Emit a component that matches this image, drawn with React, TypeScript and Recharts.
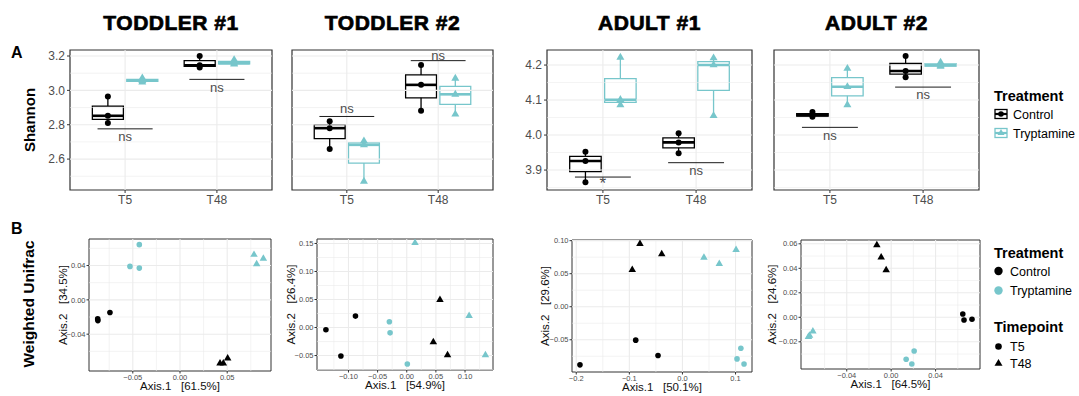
import React from 'react';
import { ScatterChart, Scatter, XAxis, YAxis, ReferenceLine, ReferenceArea, ReferenceDot } from 'recharts';

const FONT = '"Liberation Sans", Arial, sans-serif';
const CONTROL_COLOR = '#000000';
const TRYP_COLOR = '#77C6CB';
const GRID = '#EBEBEB';
const BORDER = '#333333';
const TICK_TEXT = '#4D4D4D';

const TIMEPOINTS = ['T5', 'T48'];
const SUBJECTS = ['TODDLER #1', 'TODDLER #2', 'ADULT #1', 'ADULT #2'];

// Shannon index replicates, [T5, T48]
const TODDLER1_CONTROL = [[2.965, 2.852, 2.81], [3.2, 3.146, 3.133]];
const TODDLER1_TRYP = [[3.072, 3.057, 3.048], [3.178, 3.158, 3.152]];
const TODDLER2_CONTROL = [[2.82, 2.78, 2.658], [3.148, 3.032, 2.881]];
const TODDLER2_TRYP = [[2.705, 2.683, 2.47], [3.07, 2.977, 2.861]];
const ADULT1_CONTROL = [[3.952, 3.926, 3.865], [4.005, 3.979, 3.948]];
const ADULT1_TRYP = [[4.222, 4.101, 4.086], [4.22, 4.2, 4.055]];
const ADULT2_CONTROL = [[4.066, 4.057, 4.052], [4.226, 4.183, 4.165]];
const ADULT2_TRYP = [[4.19, 4.138, 4.086], [4.208, 4.199, 4.196]];

// significance: [label, bar height, label height] per timepoint
const TODDLER1_SIG = [['ns', 2.776, 2.731], ['ns', 3.064, 3.018]];
const TODDLER2_SIG = [['ns', 2.848, 2.896], ['ns', 3.173, 3.206]];
const ADULT1_SIG = [['*', 3.88, 3.862], ['ns', 3.921, 3.9]];
const ADULT2_SIG = [['ns', 4.022, 4.0], ['ns', 4.137, 4.116]];

// PCoA (weighted UniFrac): [treatment, timepoint, axis1, axis2]
const TODDLER1_PCOA = [
  ['Control', 'T5', -0.0872, -0.0222], ['Control', 'T5', -0.087, -0.0242], ['Control', 'T5', -0.0742, -0.0148],
  ['Control', 'T48', 0.0424, -0.074], ['Control', 'T48', 0.0459, -0.074], ['Control', 'T48', 0.0505, -0.0682],
  ['Tryptamine', 'T5', -0.0431, 0.0643], ['Tryptamine', 'T5', -0.053, 0.039], ['Tryptamine', 'T5', -0.0431, 0.037],
  ['Tryptamine', 'T48', 0.0784, 0.0526], ['Tryptamine', 'T48', 0.0883, 0.048], ['Tryptamine', 'T48', 0.0812, 0.0417],
];
const TODDLER2_PCOA = [
  ['Control', 'T5', -0.1387, -0.004], ['Control', 'T5', -0.113, -0.0507], ['Control', 'T5', -0.088, 0.0204],
  ['Control', 'T48', 0.057, 0.0496], ['Control', 'T48', 0.0456, -0.026], ['Control', 'T48', 0.07, -0.049],
  ['Tryptamine', 'T5', -0.0298, 0.0102], ['Tryptamine', 'T5', -0.0286, -0.0095], ['Tryptamine', 'T5', 0.001, -0.065],
  ['Tryptamine', 'T48', 0.0142, 0.151], ['Tryptamine', 'T48', 0.107, 0.021], ['Tryptamine', 'T48', 0.135, -0.049],
];
const ADULT1_PCOA = [
  ['Control', 'T5', -0.193, -0.088], ['Control', 'T5', -0.088, -0.0506], ['Control', 'T5', -0.046, -0.0739],
  ['Control', 'T48', -0.08, 0.0953], ['Control', 'T48', -0.039, 0.0796], ['Control', 'T48', -0.0945, 0.0558],
  ['Tryptamine', 'T5', 0.11, -0.0628], ['Tryptamine', 'T5', 0.1028, -0.079], ['Tryptamine', 'T5', 0.116, -0.0866],
  ['Tryptamine', 'T48', 0.0405, 0.0745], ['Tryptamine', 'T48', 0.0694, 0.0649], ['Tryptamine', 'T48', 0.101, 0.0862],
];
const ADULT2_PCOA = [
  ['Control', 'T5', 0.0645, 0.0027], ['Control', 'T5', 0.0656, -0.0022], ['Control', 'T5', 0.0728, -0.0016],
  ['Control', 'T48', -0.0129, 0.059], ['Control', 'T48', -0.009, 0.049], ['Control', 'T48', -0.0045, 0.0386],
  ['Tryptamine', 'T5', 0.0207, -0.0275], ['Tryptamine', 'T5', 0.0135, -0.0343], ['Tryptamine', 'T5', 0.0186, -0.0381],
  ['Tryptamine', 'T48', -0.0705, -0.0115], ['Tryptamine', 'T48', -0.0735, -0.015], ['Tryptamine', 'T48', -0.0745, -0.016],
];

const AXIS1_PCT = ['61.5%', '54.9%', '50.1%', '64.5%'];
const AXIS2_PCT = ['34.5%', '26.4%', '29.6%', '24.6%'];

const SHANNON_CONTROL = [TODDLER1_CONTROL, TODDLER2_CONTROL, ADULT1_CONTROL, ADULT2_CONTROL];
const SHANNON_TRYP = [TODDLER1_TRYP, TODDLER2_TRYP, ADULT1_TRYP, ADULT2_TRYP];
const SHANNON_SIG = [TODDLER1_SIG, TODDLER2_SIG, ADULT1_SIG, ADULT2_SIG];
const PCOA = [TODDLER1_PCOA, TODDLER2_PCOA, ADULT1_PCOA, ADULT2_PCOA];

// axis setup
const A_YDOMAIN = [[2.42, 3.235], [2.42, 3.235], [3.843, 4.243], [3.843, 4.243]];
const A_YTICKS = [[2.6, 2.8, 3.0, 3.2], [2.6, 2.8, 3.0, 3.2], [3.9, 4.0, 4.1, 4.2], [3.9, 4.0, 4.1, 4.2]];
const B_XDOMAIN = [[-0.0964, 0.0964], [-0.154, 0.148], [-0.208, 0.131], [-0.0812, 0.08]];
const B_YDOMAIN = [[-0.0829, 0.0709], [-0.0758, 0.158], [-0.0988, 0.101], [-0.0422, 0.0631]];
const B_XTICKS = [[-0.05, 0, 0.05], [-0.1, -0.05, 0, 0.05, 0.1], [-0.2, -0.1, 0, 0.1], [-0.04, 0, 0.04]];
const B_YTICKS = [[-0.04, 0, 0.04], [-0.05, 0, 0.05, 0.1, 0.15], [-0.05, 0, 0.05, 0.1], [-0.02, 0, 0.02, 0.04, 0.06]];
const B_XDEC = [2, 2, 1, 2];

// layout (pixels)
const A_RECTS = [
  { x: 70, y: 50, w: 202, h: 140 },
  { x: 292, y: 50, w: 201, h: 140 },
  { x: 547, y: 50, w: 205, h: 140 },
  { x: 774, y: 50, w: 205, h: 140 },
];
const B_RECTS = [
  { x: 89, y: 239, w: 182, h: 132 },
  { x: 317, y: 239, w: 176, h: 131 },
  { x: 572, y: 240, w: 180, h: 132 },
  { x: 801, y: 240, w: 179, h: 129 },
];
const B_YAXIS_W = [52, 53, 54, 58];
const DODGE = 0.1875;
const HALF_BOX = 0.169;

const fmtTick = (dec: number) => (v: number) => {
  const s = Math.abs(v) < 1e-9 ? (0).toFixed(dec) : v.toFixed(dec);
  return s.replace('-', '\u2212');
};

const minorsOf = (ticks: number[]) => {
  const step = ticks[1] - ticks[0];
  const out: number[] = [];
  out.push(ticks[0] - step / 2);
  ticks.forEach((t) => out.push(t + step / 2));
  return out;
};

const quantile = (s: number[], p: number) => {
  const h = (s.length - 1) * p;
  const lo = Math.floor(h);
  const hi = Math.min(lo + 1, s.length - 1);
  return s[lo] + (h - lo) * (s[hi] - s[lo]);
};

const triangle = (cx: number, cy: number, s: number, fill: string) => (
  <polygon
    points={`${cx},${cy - s * 0.577} ${cx - s / 2},${cy + s * 0.289} ${cx + s / 2},${cy + s * 0.289}`}
    fill={fill}
  />
);

function boxElements(values: number[], center: number, color: string, key: string) {
  const s = [...values].sort((a, b) => a - b);
  const q1 = quantile(s, 0.25);
  const med = quantile(s, 0.5);
  const q3 = quantile(s, 0.75);
  const lo = s[0];
  const hi = s[s.length - 1];
  return [
    <ReferenceLine key={key + 'wl'} segment={[{ x: center, y: lo }, { x: center, y: q1 }]} stroke={color} strokeWidth={1.3} ifOverflow="visible" />,
    <ReferenceLine key={key + 'wh'} segment={[{ x: center, y: q3 }, { x: center, y: hi }]} stroke={color} strokeWidth={1.3} ifOverflow="visible" />,
    <ReferenceArea key={key + 'b'} x1={center - HALF_BOX} x2={center + HALF_BOX} y1={q1} y2={q3} fill="#ffffff" fillOpacity={1} stroke={color} strokeWidth={1.3} ifOverflow="visible" />,
    <ReferenceLine key={key + 'm'} segment={[{ x: center - HALF_BOX, y: med }, { x: center + HALF_BOX, y: med }]} stroke={color} strokeWidth={2.6} ifOverflow="visible" />,
  ];
}

function ShannonPanel({ idx }: { idx: number }) {
  const r = A_RECTS[idx];
  const showY = idx === 0 || idx === 2;
  const padL = idx === 0 ? 80 : idx === 2 ? 30 : 6;
  const padT = 6;
  const padR = 6;
  const padB = 22;
  const yTicks = A_YTICKS[idx];

  const points: any[] = [];
  SHANNON_CONTROL[idx].forEach((vals, t) => vals.forEach((v) => points.push({ x: t + 1 - DODGE, y: v, g: 'Control' })));
  SHANNON_TRYP[idx].forEach((vals, t) => vals.forEach((v) => points.push({ x: t + 1 + DODGE, y: v, g: 'Tryptamine' })));

  return (
    <div style={{ position: 'absolute', left: r.x - padL, top: r.y - padT }}>
      <ScatterChart
        width={r.w + padL + padR}
        height={r.h + padT + padB}
        margin={{ top: padT, right: padR, bottom: 0, left: showY ? 0 : padL }}
      >
        <XAxis
          type="number"
          dataKey="x"
          domain={[0.4, 2.6]}
          ticks={[1, 2]}
          allowDataOverflow
          tickFormatter={(v) => TIMEPOINTS[v - 1]}
          tick={{ fill: TICK_TEXT, fontSize: 12, fontFamily: FONT }}
          tickLine={{ stroke: BORDER }}
          tickSize={3}
          axisLine={false}
          height={padB}
        />
        <YAxis
          type="number"
          dataKey="y"
          domain={A_YDOMAIN[idx]}
          ticks={yTicks}
          allowDataOverflow
          hide={!showY}
          width={padL}
          tickFormatter={(v) => v.toFixed(1)}
          tick={{ fill: TICK_TEXT, fontSize: 12, fontFamily: FONT }}
          tickLine={{ stroke: BORDER }}
          tickSize={3}
          axisLine={false}
          label={
            idx === 0
              ? { value: 'Shannon', angle: -90, position: 'center', fill: '#000', fontSize: 15, fontWeight: 'bold', fontFamily: FONT }
              : undefined
          }
        />
        {minorsOf(yTicks).map((v) => (
          <ReferenceLine key={'mn' + v} y={v} stroke={GRID} strokeWidth={0.6} />
        ))}
        {yTicks.map((v) => (
          <ReferenceLine key={'mj' + v} y={v} stroke={GRID} strokeWidth={1.1} />
        ))}
        {[1, 2].map((v) => (
          <ReferenceLine key={'vx' + v} x={v} stroke={GRID} strokeWidth={1.1} />
        ))}
        {SHANNON_CONTROL[idx].flatMap((vals, t) => boxElements(vals, t + 1 - DODGE, CONTROL_COLOR, 'c' + t))}
        {SHANNON_TRYP[idx].flatMap((vals, t) => boxElements(vals, t + 1 + DODGE, TRYP_COLOR, 't' + t))}
        <Scatter
          data={points}
          isAnimationActive={false}
          shape={(p: any) =>
            p.payload.g === 'Control' ? (
              <circle cx={p.cx} cy={p.cy} r={3} fill={CONTROL_COLOR} />
            ) : (
              triangle(p.cx, p.cy, 8, TRYP_COLOR)
            )
          }
        />
        {SHANNON_SIG[idx].map(([label, bar], t) => (
          <ReferenceLine
            key={'sb' + t}
            segment={[{ x: t + 1 - 0.3, y: bar as number }, { x: t + 1 + 0.3, y: bar as number }]}
            stroke="#000"
            strokeWidth={0.9}
            ifOverflow="visible"
          />
        ))}
        {SHANNON_SIG[idx].map(([label, , at], t) => (
          <ReferenceDot
            key={'sl' + t}
            x={t + 1}
            y={at as number}
            r={0}
            fill="none"
            stroke="none"
            ifOverflow="visible"
            label={{
              value: label as string,
              position: 'center',
              fill: TICK_TEXT,
              fontSize: label === '*' ? 17 : 13,
              fontFamily: FONT,
            }}
          />
        ))}
        <ReferenceArea
          x1={0.4}
          x2={2.6}
          y1={A_YDOMAIN[idx][0]}
          y2={A_YDOMAIN[idx][1]}
          fill="none"
          stroke={BORDER}
          strokeWidth={1.2}
          ifOverflow="visible"
        />
      </ScatterChart>
    </div>
  );
}

function PcoaPanel({ idx }: { idx: number }) {
  const r = B_RECTS[idx];
  const padL = B_YAXIS_W[idx];
  const padT = 4;
  const padR = 4;
  const padB = 28;
  const xTicks = B_XTICKS[idx];
  const yTicks = B_YTICKS[idx];
  const points = PCOA[idx].map(([g, t, x, y]) => ({ g, t, x, y }));

  return (
    <div style={{ position: 'absolute', left: r.x - padL, top: r.y - padT }}>
      <ScatterChart width={r.w + padL + padR} height={r.h + padT + padB} margin={{ top: padT, right: padR, bottom: 0, left: 0 }}>
        <XAxis
          type="number"
          dataKey="x"
          domain={B_XDOMAIN[idx]}
          ticks={xTicks}
          allowDataOverflow
          tickFormatter={fmtTick(B_XDEC[idx])}
          tick={{ fill: TICK_TEXT, fontSize: 7.5, fontFamily: FONT }}
          tickLine={{ stroke: BORDER }}
          tickSize={2.5}
          tickMargin={1}
          axisLine={false}
          height={padB}
          label={{
            value: `Axis.1\u00a0\u00a0\u00a0[${AXIS1_PCT[idx]}]`,
            position: 'center',
            dy: 1,
            fill: '#111',
            fontSize: 11.5,
            fontFamily: FONT,
          }}
        />
        <YAxis
          type="number"
          dataKey="y"
          domain={B_YDOMAIN[idx]}
          ticks={yTicks}
          allowDataOverflow
          width={padL}
          tickFormatter={fmtTick(2)}
          tick={{ fill: TICK_TEXT, fontSize: 7.5, fontFamily: FONT }}
          tickLine={{ stroke: BORDER }}
          tickSize={2.5}
          tickMargin={1}
          axisLine={false}
          label={{
            value: `Axis.2\u00a0\u00a0\u00a0[${AXIS2_PCT[idx]}]`,
            angle: -90,
            position: 'center',
            fill: '#111',
            fontSize: 11.5,
            fontFamily: FONT,
          }}
        />
        {minorsOf(yTicks).map((v) => (
          <ReferenceLine key={'my' + v} y={v} stroke={GRID} strokeWidth={0.6} />
        ))}
        {minorsOf(xTicks).map((v) => (
          <ReferenceLine key={'mx' + v} x={v} stroke={GRID} strokeWidth={0.6} />
        ))}
        {yTicks.map((v) => (
          <ReferenceLine key={'jy' + v} y={v} stroke={GRID} strokeWidth={1.1} />
        ))}
        {xTicks.map((v) => (
          <ReferenceLine key={'jx' + v} x={v} stroke={GRID} strokeWidth={1.1} />
        ))}
        <Scatter
          data={points}
          isAnimationActive={false}
          shape={(p: any) => {
            const col = p.payload.g === 'Control' ? CONTROL_COLOR : TRYP_COLOR;
            return p.payload.t === 'T5' ? <circle cx={p.cx} cy={p.cy} r={2.8} fill={col} /> : triangle(p.cx, p.cy, 7.5, col);
          }}
        />
        <ReferenceArea
          x1={B_XDOMAIN[idx][0]}
          x2={B_XDOMAIN[idx][1]}
          y1={B_YDOMAIN[idx][0]}
          y2={B_YDOMAIN[idx][1]}
          fill="none"
          stroke={BORDER}
          strokeWidth={1}
          ifOverflow="visible"
        />
      </ScatterChart>
    </div>
  );
}

function Legends() {
  const t = { fontFamily: FONT, fontSize: 12.5, fill: '#000' } as const;
  const h = { fontFamily: FONT, fontSize: 14.5, fontWeight: 'bold', fill: '#000' } as const;
  const boxKey = (y: number, col: string, tri: boolean) => (
    <g>
      <rect x={995} y={y - 4.5} width={12} height={9} fill="#fff" stroke={col} strokeWidth={1.3} />
      <line x1={995} x2={1007} y1={y} y2={y} stroke={col} strokeWidth={2.2} />
      {tri ? triangle(1001, y, 7, col) : <circle cx={1001} cy={y} r={2.8} fill={col} />}
    </g>
  );
  return (
    <svg style={{ position: 'absolute', left: 0, top: 0 }} width={1079} height={396}>
      <text x={994} y={101} {...h}>Treatment</text>
      {boxKey(114, CONTROL_COLOR, false)}
      <text x={1013} y={118.5} {...t}>Control</text>
      {boxKey(133, TRYP_COLOR, true)}
      <text x={1013} y={137.5} {...t}>Tryptamine</text>

      <text x={994} y={258} {...h}>Treatment</text>
      <circle cx={998.5} cy={271} r={4.2} fill={CONTROL_COLOR} />
      <text x={1010} y={275.5} {...t}>Control</text>
      <circle cx={998.5} cy={290.5} r={4.2} fill={TRYP_COLOR} />
      <text x={1010} y={295} {...t}>Tryptamine</text>
      <text x={994} y={332} {...h}>Timepoint</text>
      <circle cx={998.5} cy={346.5} r={3.3} fill="#000" />
      <text x={1010} y={351} {...t}>T5</text>
      {triangle(998.5, 363.5, 8, '#000')}
      <text x={1010} y={368} {...t}>T48</text>
    </svg>
  );
}

function Labels() {
  return (
    <svg style={{ position: 'absolute', left: 0, top: 0 }} width={1079} height={396}>
      <text x={11} y={57.5} fontFamily={FONT} fontWeight="bold" fontSize={16}>A</text>
      <text x={11} y={233.5} fontFamily={FONT} fontWeight="bold" fontSize={16}>B</text>
      <text
        transform="translate(30,304) rotate(-90)"
        textAnchor="middle"
        dominantBaseline="middle"
        fontFamily={FONT}
        fontWeight="bold"
        fontSize={15.5}
      >
        Weighted Unifrac
      </text>
    </svg>
  );
}

export default function App() {
  return (
    <div style={{ position: 'absolute', left: 0, top: 0, width: 1079, height: 396, background: '#fff', fontFamily: FONT }}>
      {SUBJECTS.map((s, i) => (
        <div
          key={s}
          style={{
            position: 'absolute',
            left: A_RECTS[i].x,
            width: A_RECTS[i].w,
            top: 10,
            textAlign: 'center',
            fontSize: 21,
            fontWeight: 900,
            lineHeight: '26px',
            letterSpacing: 0.5,
            WebkitTextStroke: '0.7px #000',
          }}
        >
          {s}
        </div>
      ))}
      {SUBJECTS.map((s, i) => (
        <ShannonPanel key={'a' + i} idx={i} />
      ))}
      {SUBJECTS.map((s, i) => (
        <PcoaPanel key={'b' + i} idx={i} />
      ))}
      <Legends />
      <Labels />
    </div>
  );
}
